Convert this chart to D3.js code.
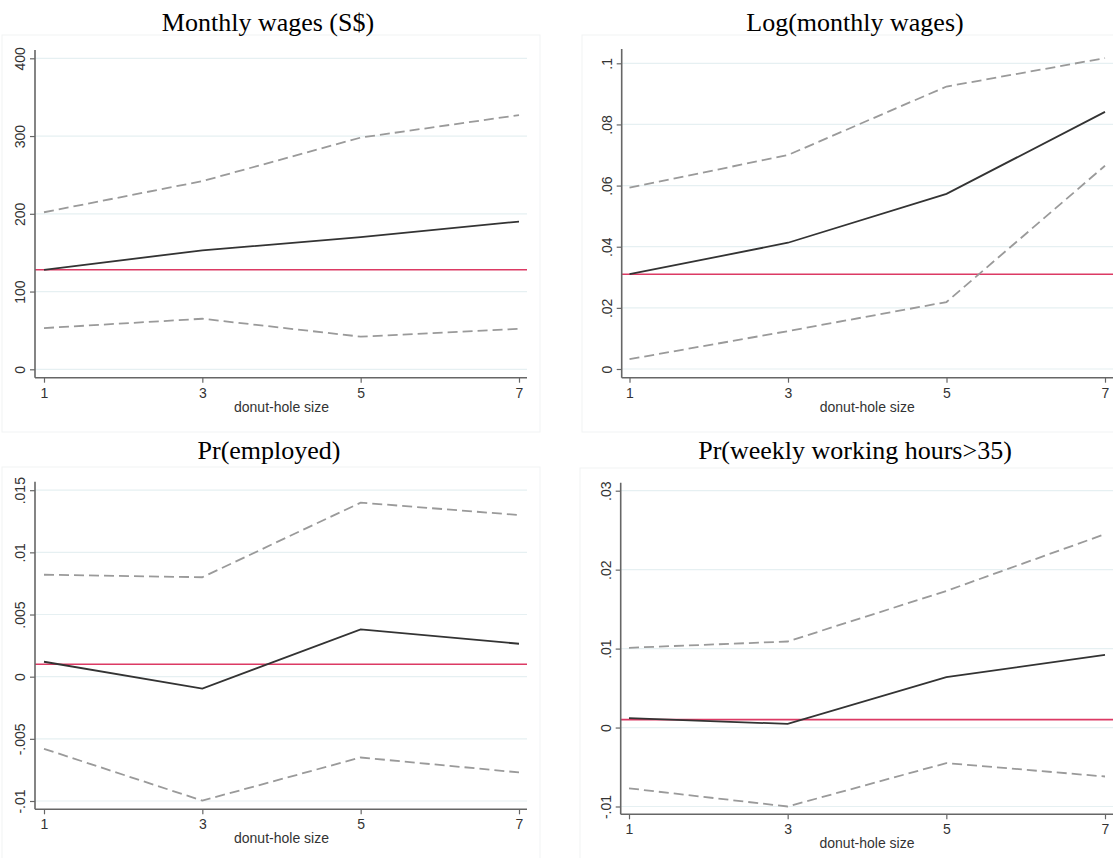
<!DOCTYPE html>
<html>
<head>
<meta charset="utf-8">
<script src="https://cdn.jsdelivr.net/npm/d3@7/dist/d3.min.js"></script>
<style>
  html, body { margin: 0; padding: 0; background: #fff; }
  svg { display: block; }
  .tick text { font-family: "Liberation Sans", Arial, sans-serif; font-size: 14px; fill: #333; }
  .title { font-family: "Liberation Serif", "Times New Roman", serif; font-size: 26px; fill: #000; }
  .xtitle { font-family: "Liberation Sans", Arial, sans-serif; font-size: 14px; fill: #333; }
</style>
</head>
<body>
<svg id="chart" width="1113" height="858"></svg>
<script>
// Donut-hole sizes on the x axis
const donutSizes = [1, 3, 5, 7];

// Monthly wages (S$)
const wagesEst = [128, 153, 170, 190];
const wagesLo  = [53, 65, 42, 52];
const wagesHi  = [202, 242, 298, 327];
const wagesRef = 128;
const wagesTicks = [0, 100, 200, 300, 400];
const wagesTickLabels = ["0", "100", "200", "300", "400"];

// Log(monthly wages)
const logEst = [0.031, 0.0413, 0.0573, 0.0841];
const logLo  = [0.0032, 0.0124, 0.0219, 0.0665];
const logHi  = [0.0593, 0.070, 0.0924, 0.1017];
const logRef = 0.031;
const logTicks = [0, 0.02, 0.04, 0.06, 0.08, 0.1];
const logTickLabels = ["0", ".02", ".04", ".06", ".08", ".1"];

// Pr(employed)
const empEst = [0.0012, -0.00096, 0.0038, 0.00265];
const empLo  = [-0.0058, -0.00997, -0.0065, -0.0077];
const empHi  = [0.0082, 0.0080, 0.0140, 0.0130];
const empRef = 0.001;
const empTicks = [-0.01, -0.005, 0, 0.005, 0.01, 0.015];
const empTickLabels = ["-.01", "-.005", "0", ".005", ".01", ".015"];

// Pr(weekly working hours>35)
const hrsEst = [0.0012, 0.00046, 0.0064, 0.0092];
const hrsLo  = [-0.0077, -0.0100, -0.0045, -0.0062];
const hrsHi  = [0.0101, 0.0109, 0.0173, 0.0245];
const hrsRef = 0.001;
const hrsTicks = [-0.01, 0, 0.01, 0.02, 0.03];
const hrsTickLabels = ["-.01", "0", ".01", ".02", ".03"];

const xTicks = [1, 3, 5, 7];
const xTickLabels = ["1", "3", "5", "7"];

const panels = [
  { title: "Monthly wages (S$)", titleX: 268, titleY: 31,
    box: [2, 35, 538, 397],
    axisX: 35, axisRight: 527, x0: 44, x1: 519,
    axisTop: 50, axisBottom: 377.7, yMinPx: 369.3, yMaxPx: 58.3,
    est: wagesEst, lo: wagesLo, hi: wagesHi, ref: wagesRef,
    ticks: wagesTicks, labels: wagesTickLabels },
  { title: "Log(monthly wages)", titleX: 855, titleY: 31,
    box: [582, 35, 540, 397],
    axisX: 621.7, axisRight: 1113, x0: 629.5, x1: 1105,
    axisTop: 49, axisBottom: 377.7, yMinPx: 369, yMaxPx: 63.3,
    est: logEst, lo: logLo, hi: logHi, ref: logRef,
    ticks: logTicks, labels: logTickLabels },
  { title: "Pr(employed)", titleX: 269, titleY: 459,
    box: [2, 467, 538, 395],
    axisX: 35, axisRight: 527, x0: 44, x1: 519,
    axisTop: 481.7, axisBottom: 809.3, yMinPx: 801, yMaxPx: 490.2,
    est: empEst, lo: empLo, hi: empHi, ref: empRef,
    ticks: empTicks, labels: empTickLabels },
  { title: "Pr(weekly working hours>35)", titleX: 855, titleY: 459,
    box: [580, 468, 540, 395],
    axisX: 620.7, axisRight: 1113, x0: 629, x1: 1105,
    axisTop: 482.7, axisBottom: 814.3, yMinPx: 806.5, yMaxPx: 490.7,
    est: hrsEst, lo: hrsLo, hi: hrsHi, ref: hrsRef,
    ticks: hrsTicks, labels: hrsTickLabels }
];

const svg = d3.select("#chart");

panels.forEach(p => {
  const g = svg.append("g");

  // faint panel frame
  g.append("rect")
    .attr("x", p.box[0]).attr("y", p.box[1])
    .attr("width", p.box[2]).attr("height", p.box[3])
    .attr("fill", "#fff").attr("stroke", "#f1f3f4").attr("stroke-width", 1);

  g.append("text").attr("class", "title")
    .attr("x", p.titleX).attr("y", p.titleY)
    .attr("text-anchor", "middle").text(p.title);

  const x = d3.scaleLinear().domain([1, 7]).range([p.x0, p.x1]);
  const y = d3.scaleLinear()
    .domain([p.ticks[0], p.ticks[p.ticks.length - 1]])
    .range([p.yMinPx, p.yMaxPx]);

  // horizontal grid lines
  g.append("g").selectAll("line").data(p.ticks).join("line")
    .attr("x1", p.axisX).attr("x2", p.axisRight)
    .attr("y1", d => y(d)).attr("y2", d => y(d))
    .attr("stroke", "#e6f0f2").attr("stroke-width", 1.2);

  // reference line
  g.append("line")
    .attr("x1", p.axisX).attr("x2", p.axisRight)
    .attr("y1", y(p.ref)).attr("y2", y(p.ref))
    .attr("stroke", "#dc3a64").attr("stroke-width", 1.6);

  const line = d3.line().x((d, i) => x(donutSizes[i])).y(d => y(d));

  // confidence bounds
  [p.hi, p.lo].forEach(series => {
    g.append("path").datum(series)
      .attr("d", line).attr("fill", "none")
      .attr("stroke", "#9a9a9a").attr("stroke-width", 1.8)
      .attr("stroke-dasharray", "10,5");
  });

  // point estimates
  g.append("path").datum(p.est)
    .attr("d", line).attr("fill", "none")
    .attr("stroke", "#333").attr("stroke-width", 1.8);

  // y axis
  const ya = g.append("g").attr("transform", `translate(${p.axisX},0)`)
    .call(d3.axisLeft(y).tickValues(p.ticks)
      .tickFormat((d, i) => p.labels[i]).tickSize(5).tickSizeOuter(0));
  ya.select(".domain").remove();
  ya.selectAll(".tick line").attr("stroke", "#666").attr("stroke-width", 1.2);
  ya.selectAll(".tick text")
    .attr("x", 0).attr("y", -10).attr("dy", 0)
    .attr("text-anchor", "middle")
    .attr("transform", "rotate(-90)");
  g.append("line")
    .attr("x1", p.axisX).attr("x2", p.axisX)
    .attr("y1", p.axisTop).attr("y2", p.axisBottom)
    .attr("stroke", "#666").attr("stroke-width", 1.6);

  // x axis
  const xa = g.append("g").attr("transform", `translate(0,${p.axisBottom})`)
    .call(d3.axisBottom(x).tickValues(xTicks)
      .tickFormat((d, i) => xTickLabels[i])
      .tickSize(5).tickPadding(5).tickSizeOuter(0));
  xa.select(".domain").remove();
  xa.selectAll(".tick line").attr("stroke", "#666").attr("stroke-width", 1.2);
  g.append("line")
    .attr("x1", p.axisX).attr("x2", p.axisRight)
    .attr("y1", p.axisBottom).attr("y2", p.axisBottom)
    .attr("stroke", "#666").attr("stroke-width", 1.6);

  g.append("text").attr("class", "xtitle")
    .attr("x", (p.x0 + p.x1) / 2).attr("y", p.axisBottom + 34)
    .attr("text-anchor", "middle").text("donut-hole size");
});
</script>
</body>
</html>
